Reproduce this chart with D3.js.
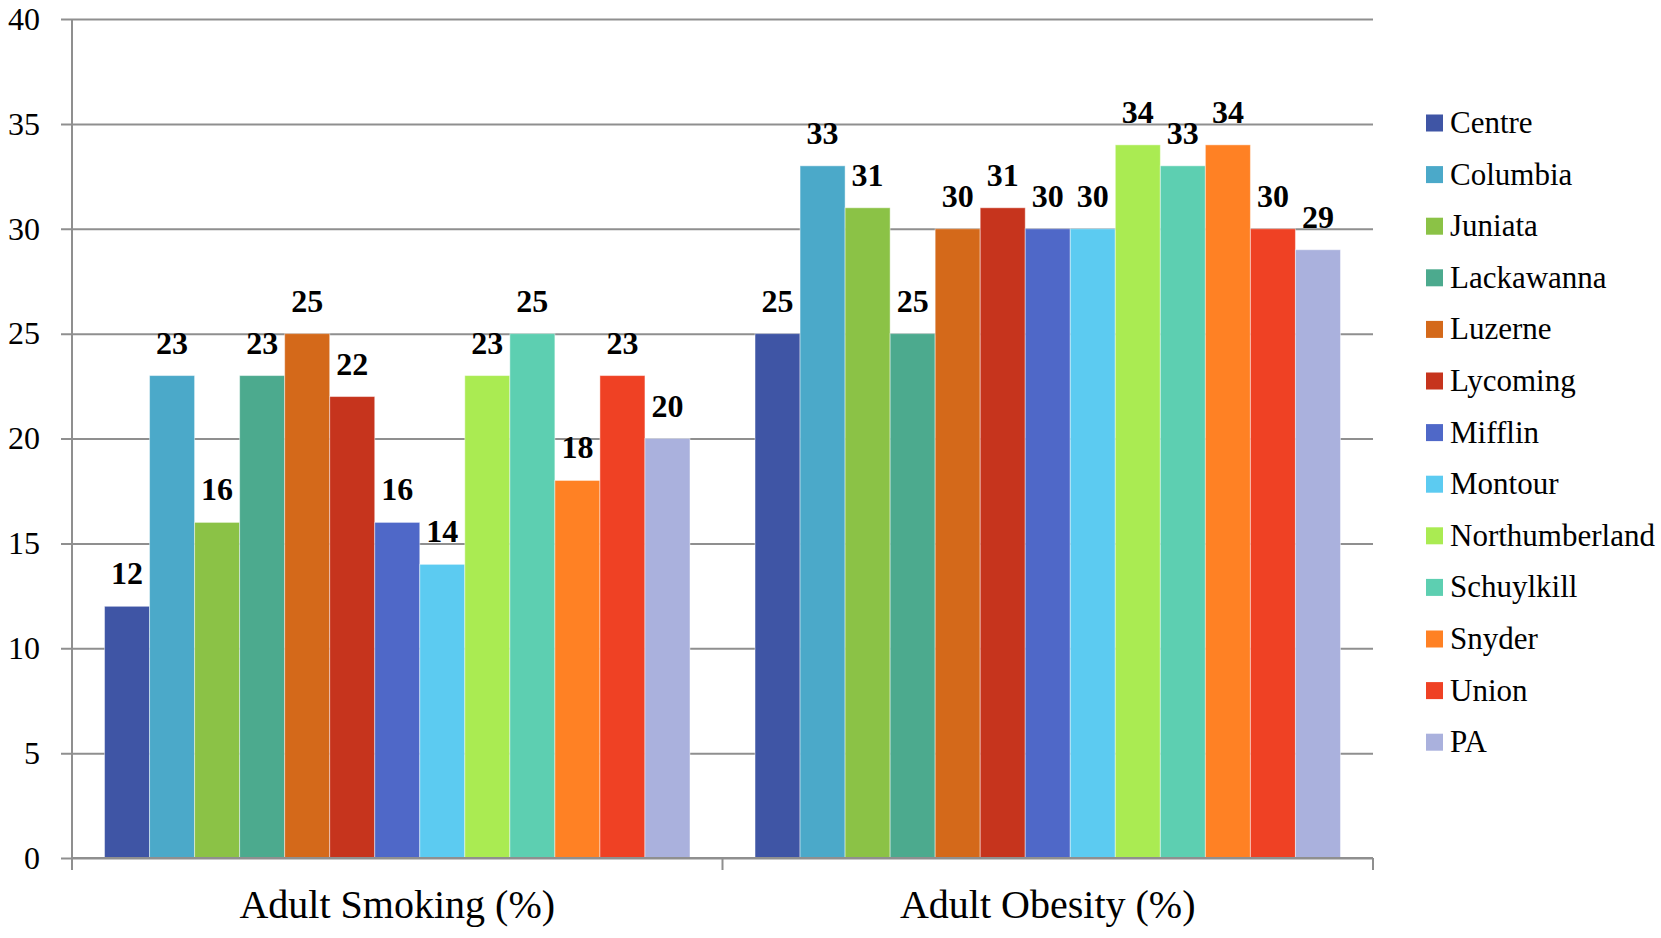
<!DOCTYPE html>
<html>
<head>
<meta charset="utf-8">
<script src="https://cdn.jsdelivr.net/npm/d3@7"></script>
<style>
  html, body { margin: 0; padding: 0; background: #fff; }
  svg text { font-family: "Liberation Serif", "DejaVu Serif", serif; }
</style>
</head>
<body>
<svg id="chart" width="1661" height="938"></svg>
<script>
// Health indicators by county (percent of adults)
const categories = ["Adult Smoking (%)", "Adult Obesity (%)"];
const counties = ["Centre", "Columbia", "Juniata", "Lackawanna", "Luzerne", "Lycoming",
  "Mifflin", "Montour", "Northumberland", "Schuylkill", "Snyder", "Union", "PA"];
const smoking = [12, 23, 16, 23, 25, 22, 16, 14, 23, 25, 18, 23, 20];
const obesity = [25, 33, 31, 25, 30, 31, 30, 30, 34, 33, 34, 30, 29];
const yTicks = [0, 5, 10, 15, 20, 25, 30, 35, 40];
const colors = ["#3F55A5", "#4BA9C9", "#8BC246", "#4CAA8E", "#D4691A", "#C6341D",
  "#4F68C8", "#5CCBF1", "#AAEB52", "#5DCFB1", "#FF8124", "#EF4124", "#AAB1DD"];

const seriesByCategory = [smoking, obesity];
const FONT = "'Liberation Serif', 'DejaVu Serif', serif";

const svg = d3.select("#chart").attr("font-family", FONT);
const plotLeft = 72, plotRight = 1373, plotTop = 19, plotBottom = 858;
const gridColor = "#8f8f8f";

const y = d3.scaleLinear().domain([0, 40]).range([plotBottom, plotTop]);
const x0 = d3.scaleBand().domain(categories).range([plotLeft, plotRight])
  .paddingInner(0.1).paddingOuter(0.05);
const x1 = d3.scaleBand().domain(counties).range([0, x0.bandwidth()]).padding(0);
const color = d3.scaleOrdinal().domain(counties).range(colors);

// horizontal gridlines with tick labels
const yAxis = d3.axisLeft(y).tickValues(yTicks).tickSize(-(plotRight - plotLeft)).tickSizeOuter(0).tickPadding(32);
const gy = svg.append("g").attr("transform", `translate(${plotLeft},0)`).call(yAxis)
  .attr("font-family", FONT).attr("font-size", 32);
gy.select(".domain").remove();
gy.selectAll(".tick line").attr("x1", -11).attr("stroke", gridColor).attr("stroke-width", 2);
gy.selectAll(".tick text").attr("fill", "#000").attr("font-family", FONT);

// bars
const groups = svg.append("g").selectAll("g")
  .data(categories)
  .join("g")
  .attr("transform", d => `translate(${x0(d)},0)`);

groups.selectAll("rect")
  .data((c, i) => counties.map((name, j) => ({ name, value: seriesByCategory[i][j] })))
  .join("rect")
  .attr("x", d => x1(d.name))
  .attr("y", d => y(d.value))
  .attr("width", x1.bandwidth())
  .attr("height", d => y(0) - y(d.value))
  .attr("fill", d => color(d.name))
  .attr("stroke", "rgba(255,255,255,0.45)")
  .attr("stroke-width", 1);

groups.selectAll("text.value")
  .data((c, i) => counties.map((name, j) => ({ name, value: seriesByCategory[i][j] })))
  .join("text")
  .attr("class", "value")
  .attr("x", d => x1(d.name) + x1.bandwidth() / 2)
  .attr("y", d => y(d.value) - 22)
  .attr("text-anchor", "middle")
  .attr("font-family", FONT)
  .attr("font-size", 32)
  .attr("font-weight", "bold")
  .attr("fill", "#000")
  .text(d => d.value);

// axes lines
svg.append("line").attr("x1", plotLeft).attr("x2", plotLeft).attr("y1", plotTop).attr("y2", plotBottom + 12)
  .attr("stroke", gridColor).attr("stroke-width", 2);
svg.append("line").attr("x1", plotLeft).attr("x2", plotRight).attr("y1", plotBottom).attr("y2", plotBottom)
  .attr("stroke", gridColor).attr("stroke-width", 2);

// category dividers on the x axis
const xTickPos = [plotLeft, ...categories.slice(1).map(c => x0(c) - x0.step() * x0.paddingInner() / 2), plotRight];
svg.append("g").selectAll("line").data(xTickPos).join("line")
  .attr("x1", d => d).attr("x2", d => d).attr("y1", plotBottom).attr("y2", plotBottom + 12)
  .attr("stroke", gridColor).attr("stroke-width", 2);

// category labels
svg.append("g").selectAll("text").data(categories).join("text")
  .attr("x", d => x0(d) + x0.bandwidth() / 2)
  .attr("y", 918)
  .attr("text-anchor", "middle")
  .attr("font-family", FONT)
  .attr("font-size", 40)
  .attr("fill", "#000")
  .text(d => d);

// legend
const legend = svg.append("g").attr("transform", "translate(1426,0)");
const items = legend.selectAll("g").data(counties).join("g")
  .attr("transform", (d, i) => `translate(0,${123 + i * 51.6})`);
items.append("rect").attr("x", 0).attr("y", -8.5).attr("width", 17).attr("height", 17)
  .attr("fill", d => color(d));
items.append("text").attr("x", 24).attr("y", 10)
  .attr("font-family", FONT).attr("font-size", 31).attr("fill", "#000")
  .text(d => d);
</script>
</body>
</html>
